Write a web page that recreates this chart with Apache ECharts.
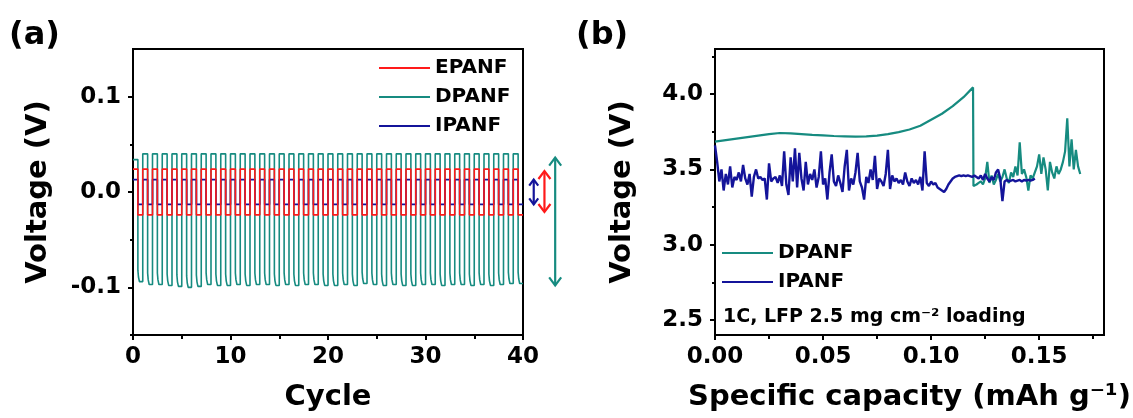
<!DOCTYPE html>
<html>
<head>
<meta charset="utf-8">
<script src="https://cdn.jsdelivr.net/npm/echarts@6/dist/echarts.min.js"></script>
<style>
  html, body { margin: 0; padding: 0; background: #fff; }
  #chart { width: 1133px; height: 418px; }
</style>
</head>
<body>
<div id="chart"></div>
<script>
// ---------- (a) symmetric Li|Li cycling, one charge + one discharge per cycle ----------
const cycleCount = 40;
const epanfLevels = [0.024, -0.024];          // plateau (V): charge, discharge
const ipanfLevels = [0.013, -0.013];
const dpanfCharge = [
  0.034, 0.040, 0.040, 0.040, 0.040, 0.040, 0.040, 0.040, 0.040, 0.040,
  0.040, 0.040, 0.040, 0.040, 0.040, 0.040, 0.040, 0.040, 0.040, 0.040,
  0.040, 0.040, 0.040, 0.040, 0.040, 0.040, 0.040, 0.040, 0.040, 0.040,
  0.040, 0.040, 0.040, 0.040, 0.040, 0.040, 0.040, 0.040, 0.040, 0.040
];
const dpanfDischarge = [
  -0.094, -0.097, -0.097, -0.098, -0.099, -0.100, -0.099, -0.097, -0.098, -0.098,
  -0.097, -0.098, -0.097, -0.097, -0.098, -0.097, -0.098, -0.097, -0.097, -0.098,
  -0.098, -0.097, -0.098, -0.096, -0.097, -0.098, -0.097, -0.098, -0.098, -0.097,
  -0.097, -0.098, -0.097, -0.097, -0.098, -0.097, -0.098, -0.097, -0.096, -0.096
];
const dpanfDischargeOnset = 0.012;            // level reached right after switching to discharge

const aXTicks = [0, 10, 20, 30, 40];
const aXMinor = [5, 15, 25, 35];
const aYTicks = [-0.1, 0, 0.1];
const aYMinor = [-0.15, -0.05, 0.05];

// polarization spans marked beside panel (a): x position in cycles, top and bottom voltage
const spanArrows = [
  { name: 'IPANF', x: 41.1, top: 0.013, bottom: -0.013 },
  { name: 'EPANF', x: 42.2, top: 0.022, bottom: -0.021 },
  { name: 'DPANF', x: 43.3, top: 0.036, bottom: -0.098 }
];

// ---------- (b) full cell charge curves, 1C ----------
const dpanfCapacity = [
  0, 0.005, 0.010, 0.015, 0.020, 0.025, 0.030, 0.035, 0.040, 0.045,
  0.050, 0.055, 0.060, 0.065, 0.070, 0.075, 0.080, 0.085, 0.090, 0.095,
  0.100, 0.105, 0.110, 0.115, 0.1194, 0.1196
];
const dpanfVoltage = [
  3.685, 3.695, 3.705, 3.715, 3.725, 3.735, 3.742, 3.740, 3.735, 3.730,
  3.726, 3.722, 3.720, 3.718, 3.720, 3.725, 3.735, 3.748, 3.765, 3.790,
  3.830, 3.870, 3.920, 3.980, 4.045, 3.390
];
// noisy tail after the drop, sampled every capStep starting at dpanfTailStart
const dpanfTailStart = 0.120;
const dpanfTail = [
  3.39, 3.40, 3.41, 3.42, 3.40, 3.44, 3.55, 3.41, 3.46, 3.40, 3.43,
  3.47, 3.42, 3.45, 3.50, 3.44, 3.41, 3.48, 3.45, 3.52, 3.46,
  3.68,
  3.47, 3.50, 3.45, 3.36, 3.46, 3.44, 3.48, 3.52, 3.60,
  3.47, 3.58, 3.50, 3.36, 3.55, 3.48, 3.44, 3.52, 3.47, 3.50,
  3.55, 3.62, 3.84, 3.52, 3.70, 3.50, 3.63, 3.52, 3.47
];
const capStep = 0.001;
// IPANF sampled every capStep from 0
const ipanfVoltage = [
  3.66, 3.55, 3.42, 3.50, 3.36, 3.47, 3.40, 3.52, 3.38, 3.45, 3.43,
  3.48, 3.42, 3.53, 3.44, 3.40, 3.47, 3.32, 3.45, 3.50, 3.44,
  3.45, 3.43, 3.44, 3.30, 3.54, 3.42, 3.44, 3.45, 3.41, 3.46,
  3.39, 3.62, 3.40, 3.33, 3.58, 3.42, 3.64, 3.38, 3.61, 3.44, 3.36, 3.55, 3.40, 3.47,
  3.43, 3.50, 3.38, 3.45, 3.62, 3.40, 3.44, 3.30, 3.48, 3.60, 3.42, 3.39, 3.46, 3.41, 3.35, 3.52, 3.63, 3.36,
  3.44, 3.40, 3.48, 3.61, 3.42, 3.38, 3.30, 3.45, 3.41, 3.50, 3.43, 3.59, 3.37, 3.44, 3.42, 3.39, 3.47, 3.63,
  3.37, 3.46, 3.42, 3.44, 3.41, 3.43, 3.40, 3.48, 3.42, 3.39, 3.44, 3.41, 3.43, 3.40,
  3.45, 3.36, 3.62, 3.41, 3.39, 3.42, 3.40, 3.41, 3.38, 3.37,
  3.36, 3.35, 3.37, 3.40, 3.42, 3.44, 3.45, 3.455, 3.46, 3.455, 3.46, 3.455, 3.46, 3.455, 3.45, 3.46,
  3.45, 3.44, 3.46, 3.43, 3.47, 3.44, 3.42, 3.45, 3.43, 3.48, 3.50, 3.44, 3.29, 3.42,
  3.43, 3.42, 3.425, 3.43, 3.42, 3.425, 3.43, 3.42, 3.43, 3.425, 3.43, 3.425, 3.43, 3.44
];

const bXTicks = [0, 0.05, 0.10, 0.15];
const bXMinor = [0.025, 0.075, 0.125, 0.175];
const bYTicks = [2.5, 3.0, 3.5, 4.0];
const bYMinor = [2.75, 3.25, 3.75, 4.25];

// ---------- styling ----------
const FONT = 'DejaVu Sans';
const COLORS = { EPANF: '#ff1a1a', DPANF: '#168b80', IPANF: '#14149a' };

function cycleValue(v, k) { return Array.isArray(v) ? v[k] : v; }

// square-wave galvanostatic profile: charge half, then discharge half of each cycle
function cyclingProfile(charge, discharge, onset) {
  const pts = [];
  for (let k = 0; k < cycleCount; k++) {
    const hi = cycleValue(charge, k), lo = cycleValue(discharge, k);
    pts.push([k, hi], [k + 0.5, hi]);
    if (onset) {
      pts.push([k + 0.5, lo + onset], [k + 0.56, lo + onset * 0.4], [k + 0.66, lo], [k + 1, lo]);
    } else {
      pts.push([k + 0.5, lo], [k + 1, lo]);
    }
  }
  return pts;
}

const dpanfCurveB = dpanfCapacity.map((c, i) => [c, dpanfVoltage[i]])
  .concat(dpanfTail.map((v, i) => [dpanfTailStart + i * capStep, v]));
const ipanfCurveB = ipanfVoltage.map((v, i) => [i * capStep, v]);

const textBase = { fontFamily: FONT, fontWeight: 'bold', color: '#000' };
const black2 = { color: '#000', width: 2 };

function mainAxis(gridIndex, cfg) {
  return Object.assign({
    gridIndex, type: 'value',
    axisLine: { show: true, onZero: false, lineStyle: black2 },
    axisTick: { show: true, inside: false, length: 5, lineStyle: black2, customValues: cfg.ticks },
    axisLabel: Object.assign({ fontSize: 23, customValues: cfg.ticks }, textBase, cfg.label),
    splitLine: { show: false },
    nameLocation: 'middle',
    nameTextStyle: Object.assign({ fontSize: 29 }, textBase)
  }, cfg.extra);
}
function minorAxis(gridIndex, min, max, values, len, position) {
  return {
    gridIndex, type: 'value', min, max, position,
    axisLine: { show: false, onZero: false },
    axisTick: { show: true, inside: false, length: len, lineStyle: black2, customValues: values },
    axisLabel: { show: false },
    splitLine: { show: false }
  };
}

const gridBase = { show: true, borderColor: '#000', borderWidth: 2, backgroundColor: 'transparent',
  containLabel: false, outerBoundsMode: 'none' };

const option = {
  animation: false,
  backgroundColor: '#fff',
  grid: [
    Object.assign({ left: 133, top: 49, width: 390, height: 286 }, gridBase),
    Object.assign({ left: 715, top: 49, width: 389, height: 286 }, gridBase)
  ],
  xAxis: [
    mainAxis(0, { ticks: aXTicks, label: { margin: 11, formatter: v => String(v) },
      extra: { min: 0, max: 40, name: 'Cycle', nameGap: 48 } }),
    mainAxis(1, { ticks: bXTicks, label: { margin: 11, formatter: v => v.toFixed(2) },
      extra: { min: 0, max: 0.18, name: 'Specific capacity (mAh g\u207B\u00B9)', nameGap: 48 } }),
    minorAxis(0, 0, 40, aXMinor, 4, 'bottom'),
    minorAxis(1, 0, 0.18, bXMinor, 4, 'bottom')
  ],
  yAxis: [
    mainAxis(0, { ticks: aYTicks, label: { margin: 12, formatter: v => v.toFixed(1) },
      extra: { min: -0.15, max: 0.15, name: 'Voltage (V)', nameGap: 80, nameRotate: 90 } }),
    mainAxis(1, { ticks: bYTicks, label: { margin: 12, formatter: v => v.toFixed(1) },
      extra: { min: 2.4, max: 4.3, name: 'Voltage (V)', nameGap: 78, nameRotate: 90 } }),
    minorAxis(0, -0.15, 0.15, aYMinor, 3, 'left'),
    minorAxis(1, 2.4, 4.3, bYMinor, 3, 'left')
  ],
  legend: [
    {
      data: ['EPANF', 'DPANF', 'IPANF'], orient: 'vertical', left: 379, top: 58, padding: 0,
      icon: 'rect', itemWidth: 51, itemHeight: 2, itemGap: 9, selectedMode: false,
      textStyle: Object.assign({ fontSize: 20, lineHeight: 20 }, textBase)
    },
    {
      data: ['DPANF', 'IPANF'], orient: 'vertical', left: 722, top: 243, padding: 0,
      icon: 'rect', itemWidth: 51, itemHeight: 2, itemGap: 9, selectedMode: false,
      textStyle: Object.assign({ fontSize: 20, lineHeight: 20 }, textBase)
    }
  ],
  graphic: [
    { type: 'text', left: 9, top: 20, style: { text: '(a)', font: 'bold 32px "DejaVu Sans"', fill: '#000' } },
    { type: 'text', left: 576, top: 20, style: { text: '(b)', font: 'bold 32px "DejaVu Sans"', fill: '#000' } },
    { type: 'text', left: 723, top: 308, style: { text: '1C, LFP 2.5 mg cm\u207B\u00B2 loading', font: 'bold 19px "DejaVu Sans"', fill: '#000' } }
  ],
  series: [
    {
      name: 'DPANF', type: 'line', xAxisIndex: 0, yAxisIndex: 0, symbol: 'none', silent: true,
      data: cyclingProfile(dpanfCharge, dpanfDischarge, dpanfDischargeOnset),
      lineStyle: { color: COLORS.DPANF, width: 1.6 }, itemStyle: { color: COLORS.DPANF }
    },
    {
      name: 'IPANF', type: 'line', xAxisIndex: 0, yAxisIndex: 0, symbol: 'none', silent: true,
      data: cyclingProfile(ipanfLevels[0], ipanfLevels[1], 0),
      lineStyle: { color: COLORS.IPANF, width: 1.6 }, itemStyle: { color: COLORS.IPANF }
    },
    {
      name: 'EPANF', type: 'line', xAxisIndex: 0, yAxisIndex: 0, symbol: 'none', silent: true,
      data: cyclingProfile(epanfLevels[0], epanfLevels[1], 0),
      lineStyle: { color: COLORS.EPANF, width: 1.6 }, itemStyle: { color: COLORS.EPANF }
    },
    {
      name: 'DPANF', type: 'line', xAxisIndex: 1, yAxisIndex: 1, symbol: 'none', silent: true,
      data: dpanfCurveB,
      lineStyle: { color: COLORS.DPANF, width: 2.2 }, itemStyle: { color: COLORS.DPANF }
    },
    {
      name: 'IPANF', type: 'line', xAxisIndex: 1, yAxisIndex: 1, symbol: 'none', silent: true,
      data: ipanfCurveB,
      lineStyle: { color: COLORS.IPANF, width: 2.4 }, itemStyle: { color: COLORS.IPANF }
    }
  ]
};

const chart = echarts.init(document.getElementById('chart'), null, { renderer: 'canvas' });
chart.setOption(option);

// double-headed arrows beside panel (a), placed through the panel's own axes
const arrowGraphics = [];
spanArrows.forEach(a => {
  const p1 = chart.convertToPixel({ xAxisIndex: 0, yAxisIndex: 0 }, [a.x, a.top]);
  const p2 = chart.convertToPixel({ xAxisIndex: 0, yAxisIndex: 0 }, [a.x, a.bottom]);
  const color = COLORS[a.name];
  const hw = a.name === 'IPANF' ? 4.5 : 6, hh = a.name === 'IPANF' ? 6 : 8;
  const st = { stroke: color, lineWidth: 2.2, fill: null };
  arrowGraphics.push(
    { type: 'line', shape: { x1: p1[0], y1: p1[1], x2: p2[0], y2: p2[1] }, style: st },
    { type: 'polyline', shape: { points: [[p1[0] - hw, p1[1] + hh], [p1[0], p1[1]], [p1[0] + hw, p1[1] + hh]] }, style: st },
    { type: 'polyline', shape: { points: [[p2[0] - hw, p2[1] - hh], [p2[0], p2[1]], [p2[0] + hw, p2[1] - hh]] }, style: st }
  );
});
chart.setOption({ graphic: option.graphic.concat(arrowGraphics) });
</script>
</body>
</html>
